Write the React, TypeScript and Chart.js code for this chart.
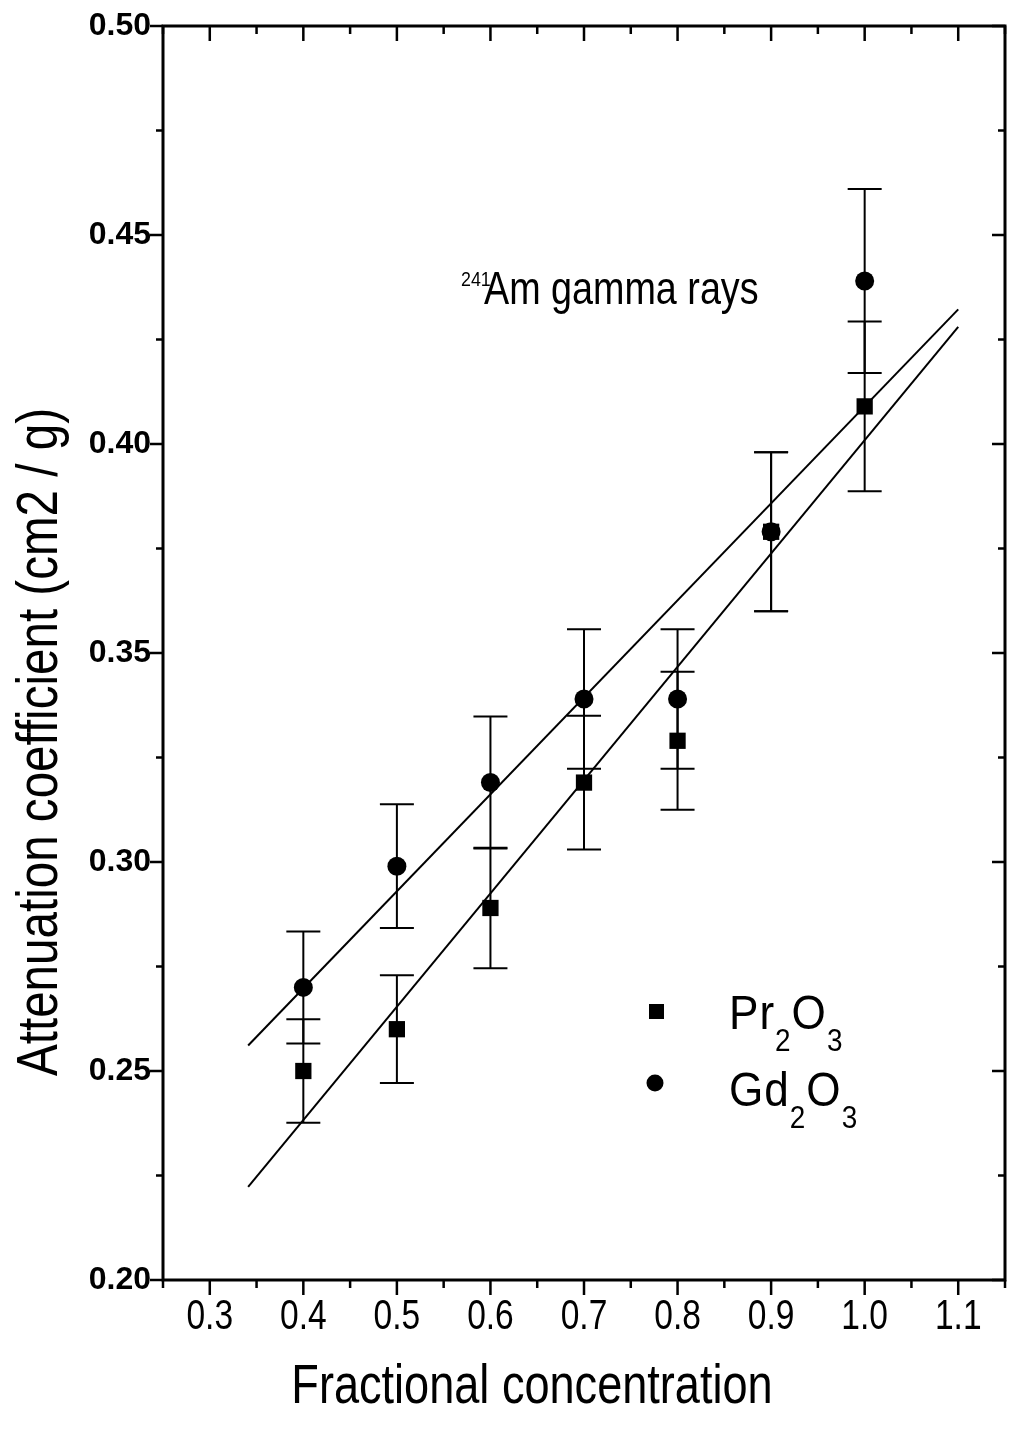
import React, { useEffect, useRef } from 'react';
import { Chart, registerables } from 'chart.js';

Chart.register(...registerables);

// ---- data ----
const concentration = [0.4, 0.5, 0.6, 0.7, 0.8, 0.9, 1.0];
const pr2o3 = [0.25, 0.26, 0.289, 0.319, 0.329, 0.379, 0.409];
const pr2o3Err = [0.0124, 0.0129, 0.0144, 0.016, 0.0165, 0.019, 0.0203];
const gd2o3 = [0.27, 0.299, 0.319, 0.339, 0.339, 0.379, 0.439];
const gd2o3Err = [0.0134, 0.0148, 0.0158, 0.0167, 0.0167, 0.019, 0.022];

const prFitX = [0.341, 1.1];
const prFitY = [0.2223, 0.428];
const gdFitX = [0.341, 1.1];
const gdFitY = [0.2561, 0.4322];

const xTicks = [0.3, 0.4, 0.5, 0.6, 0.7, 0.8, 0.9, 1.0, 1.1];
const xMinorTicks = [0.25, 0.35, 0.45, 0.55, 0.65, 0.75, 0.85, 0.95, 1.05, 1.15];
const yTicks = [0.2, 0.25, 0.3, 0.35, 0.4, 0.45, 0.5];
const yMinorTicks = [0.225, 0.275, 0.325, 0.375, 0.425, 0.475];

const seriesLabels = ['Pr2O3', 'Gd2O3'];
const xTitle = 'Fractional concentration';
const yTitle = 'Attenuation coefficient (cm2 / g)';
const noteSup = '241';
const noteText = 'Am gamma rays';

const SANS = "'Liberation Sans', Arial, sans-serif";

// condensed text: Liberation Sans squeezed horizontally
function narrowText(
  ctx: CanvasRenderingContext2D,
  text: string,
  x: number,
  y: number,
  size: number,
  align: CanvasTextAlign,
  sx = 0.82,
  rot = 0
) {
  ctx.save();
  ctx.translate(x, y);
  if (rot) ctx.rotate(rot);
  ctx.scale(sx, 1);
  ctx.font = `${size}px ${SANS}`;
  ctx.textAlign = align;
  ctx.textBaseline = 'alphabetic';
  ctx.fillText(text, 0, 0);
  const w = ctx.measureText(text).width * sx;
  ctx.restore();
  return w;
}

function drawChemical(ctx: CanvasRenderingContext2D, label: string, x: number, y: number, size: number, sx: number) {
  let cx = x;
  for (const ch of label) {
    const isSub = /[0-9]/.test(ch);
    const s = isSub ? Math.round(size * 0.64) : size;
    const w = narrowText(ctx, ch, cx, isSub ? y + size * 0.45 : y, s, 'left', sx);
    cx += w + 1;
  }
}

const decorPlugin = {
  id: 'decor',
  beforeDatasetsDraw(chart: any) {
    const { ctx, scales } = chart;
    const xs = scales.x;
    const ys = scales.y;
    ctx.save();
    ctx.strokeStyle = '#000';
    ctx.lineWidth = 2;
    const bars = (vals: number[], errs: number[]) => {
      concentration.forEach((c, i) => {
        const px = xs.getPixelForValue(c);
        const top = ys.getPixelForValue(vals[i] + errs[i]);
        const bot = ys.getPixelForValue(vals[i] - errs[i]);
        ctx.beginPath();
        ctx.moveTo(px, top);
        ctx.lineTo(px, bot);
        ctx.moveTo(px - 17, top);
        ctx.lineTo(px + 17, top);
        ctx.moveTo(px - 17, bot);
        ctx.lineTo(px + 17, bot);
        ctx.stroke();
      });
    };
    bars(pr2o3, pr2o3Err);
    bars(gd2o3, gd2o3Err);
    ctx.restore();
  },
  afterDraw(chart: any) {
    const { ctx, chartArea, scales } = chart;
    const xs = scales.x;
    const ys = scales.y;
    const { left, right, top, bottom } = chartArea;
    ctx.save();
    ctx.strokeStyle = '#000';
    ctx.fillStyle = '#000';

    // ticks: outward on bottom/left, inward on top/right
    ctx.lineWidth = 2.5;
    ctx.beginPath();
    const tickX = (v: number, len: number) => {
      const p = xs.getPixelForValue(v);
      ctx.moveTo(p, bottom);
      ctx.lineTo(p, bottom + len);
      ctx.moveTo(p, top);
      ctx.lineTo(p, top + len);
    };
    const tickY = (v: number, len: number) => {
      const p = ys.getPixelForValue(v);
      ctx.moveTo(left, p);
      ctx.lineTo(left - len, p);
      ctx.moveTo(right, p);
      ctx.lineTo(right - len, p);
    };
    xTicks.forEach((v) => tickX(v, 15));
    xMinorTicks.forEach((v) => tickX(v, 8));
    yTicks.forEach((v) => tickY(v, 13));
    yMinorTicks.forEach((v) => tickY(v, 7));
    ctx.stroke();

    // frame
    ctx.lineWidth = 3;
    ctx.strokeRect(left, top, right - left, bottom - top);

    // x tick labels (condensed), placed through the x scale
    xTicks.forEach((v) => {
      narrowText(ctx, v.toFixed(1), xs.getPixelForValue(v), bottom + 49, 43, 'center', 0.78);
    });

    // axis titles
    narrowText(ctx, xTitle, 532, 1403, 55, 'center', 0.82);
    narrowText(ctx, yTitle, 57, 742, 58, 'center', 0.82, -Math.PI / 2);

    // annotation
    narrowText(ctx, noteSup, 461, 286, 21, 'left', 0.85);
    narrowText(ctx, noteText, 484, 304, 46, 'left', 0.82);

    // legend
    const ds = chart.data.datasets;
    ctx.fillRect(649, 1004, 15, 15);
    ctx.beginPath();
    ctx.arc(655, 1083, 8.5, 0, Math.PI * 2);
    ctx.fill();
    drawChemical(ctx, ds[0].label, 729, 1029, 49, 0.9);
    drawChemical(ctx, ds[1].label, 729, 1106, 49, 0.9);
    ctx.restore();
  },
};

export default function App() {
  const ref = useRef<HTMLCanvasElement | null>(null);
  useEffect(() => {
    if (!ref.current) return;
    const chart = new Chart(ref.current, {
      type: 'scatter',
      data: {
        datasets: [
          {
            label: seriesLabels[0],
            data: concentration.map((x, i) => ({ x, y: pr2o3[i] })),
            pointStyle: 'rect',
            pointRadius: 11.5,
            backgroundColor: '#000',
            borderColor: '#000',
            borderWidth: 0,
            showLine: false,
          },
          {
            label: seriesLabels[1],
            data: concentration.map((x, i) => ({ x, y: gd2o3[i] })),
            pointStyle: 'circle',
            pointRadius: 9.5,
            backgroundColor: '#000',
            borderColor: '#000',
            borderWidth: 0,
            showLine: false,
          },
          {
            label: 'Pr2O3 fit',
            data: prFitX.map((x, i) => ({ x, y: prFitY[i] })),
            showLine: true,
            pointRadius: 0,
            borderColor: '#000',
            borderWidth: 2,
          },
          {
            label: 'Gd2O3 fit',
            data: gdFitX.map((x, i) => ({ x, y: gdFitY[i] })),
            showLine: true,
            pointRadius: 0,
            borderColor: '#000',
            borderWidth: 2,
          },
        ],
      },
      options: {
        responsive: false,
        animation: false,
        devicePixelRatio: 1,
        layout: { padding: { top: 26, right: 27, left: 0, bottom: 0 } },
        plugins: { legend: { display: false }, tooltip: { enabled: false } },
        scales: {
          x: {
            type: 'linear',
            min: 0.25,
            max: 1.15,
            grid: { display: false, drawTicks: false },
            border: { display: false },
            afterBuildTicks: (s: any) => {
              s.ticks = xTicks.map((value) => ({ value }));
            },
            afterFit: (s: any) => {
              s.height = 156;
              s.paddingLeft = 0;
              s.paddingRight = 0;
            },
            ticks: { display: false },
          },
          y: {
            type: 'linear',
            min: 0.2,
            max: 0.5,
            grid: { display: false, drawTicks: false },
            border: { display: false },
            afterBuildTicks: (s: any) => {
              s.ticks = yTicks.map((value) => ({ value }));
            },
            afterFit: (s: any) => {
              s.width = 163;
              s.paddingTop = 0;
              s.paddingBottom = 0;
            },
            ticks: {
              autoSkip: false,
              padding: 12,
              color: '#000',
              font: { family: SANS, size: 32, weight: 'bold' },
              callback: (v: any) => Number(v).toFixed(2),
            },
          },
        },
      },
      plugins: [decorPlugin],
    });
    return () => chart.destroy();
  }, []);

  return (
    <div style={{ position: 'fixed', left: 0, top: 0, width: 1032, height: 1436, background: '#fff' }}>
      <canvas ref={ref} width={1032} height={1436} style={{ display: 'block', width: 1032, height: 1436 }} />
    </div>
  );
}
